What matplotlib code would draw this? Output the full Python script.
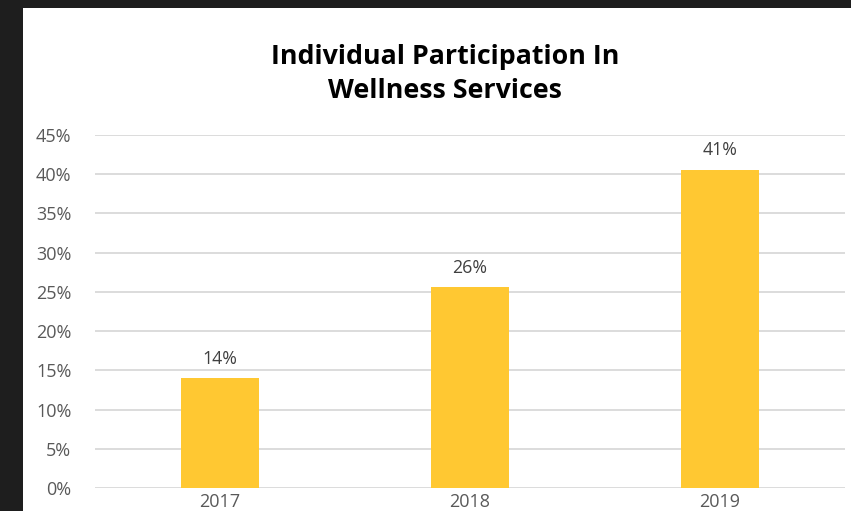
import matplotlib.pyplot as plt
from matplotlib.patches import Rectangle
from matplotlib.ticker import FuncFormatter

years = ["2017", "2018", "2019"]
participation = [0.14, 0.256, 0.406]
y_ticks = [0.0, 0.05, 0.10, 0.15, 0.20, 0.25, 0.30, 0.35, 0.40, 0.45]

W, H = 851, 511
fig = plt.figure(figsize=(W / 100, H / 100), dpi=100, facecolor="#1e1e1e")

# white card behind the chart
fig.patches.append(Rectangle((23 / W, 0), 1 - 23 / W, 1 - 8 / H,
                             transform=fig.transFigure, facecolor="white",
                             edgecolor="none", zorder=-1))

ax = fig.add_axes([95 / W, 23 / H, 750 / W, 353 / H])
ax.set_zorder(2)
ax.set_facecolor("none")

x = range(len(years))
ax.bar(x, participation, width=0.31, color="#FFC832", zorder=3)

for xi, v in zip(x, participation):
    ax.text(xi, v + 0.013, f"{v * 100:.0f}%", ha="center", va="bottom",
            fontsize=12.8, color="#404040", family="Open Sans")

ax.set_xlim(-0.5, 2.5)
ax.set_ylim(0, 0.45)
ax.set_yticks(y_ticks)
ax.yaxis.set_major_formatter(FuncFormatter(lambda v, _: f"{v * 100:.0f}%"))
ax.set_xticks(list(x))
ax.set_xticklabels(years)
ax.grid(axis="y", color="#d9d9d9", linewidth=1.3, zorder=0)
ax.set_axisbelow(True)
for s in ax.spines.values():
    s.set_visible(False)
ax.tick_params(axis="both", length=0, labelsize=13, labelcolor="#595959")
ax.tick_params(axis="y", pad=17)
ax.tick_params(axis="x", pad=3.5)
for lbl in ax.get_xticklabels() + ax.get_yticklabels():
    lbl.set_family("Open Sans")

title = fig.text(445 / W, 1 - 74 / H, "Individual Participation In\nWellness Services",
                 ha="center", va="center", fontsize=19.3, fontweight="bold",
                 color="black", family="Open Sans", linespacing=1.45)
title.set_zorder(3)

fig.savefig("out.png", dpi=100, facecolor=fig.get_facecolor())
